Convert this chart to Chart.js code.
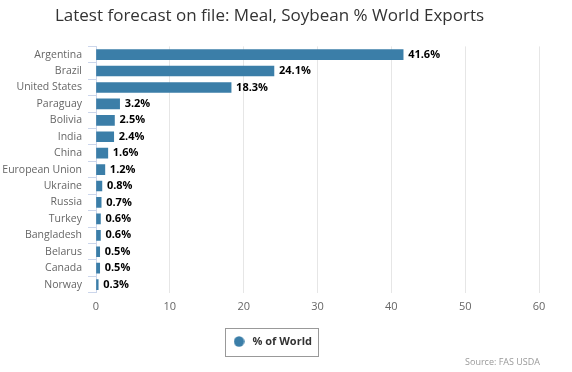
<!DOCTYPE html>
<html>
<head>
<meta charset="utf-8">
<script src="https://cdn.jsdelivr.net/npm/chart.js@4"></script>
<style>
  html, body { margin:0; padding:0; background:#fff; }
  #wrap { width:572px; height:372px; position:relative; }
</style>
</head>
<body>
<div id="wrap"><canvas id="c" width="572" height="372"></canvas></div>
<script>
// Meal, Soybean - % das exportações mundiais por país
const countries = ['Argentina','Brazil','United States','Paraguay','Bolivia','India','China','European Union','Ukraine','Russia','Turkey','Bangladesh','Belarus','Canada','Norway'];
const shareOfWorld = [41.6, 24.1, 18.3, 3.2, 2.5, 2.4, 1.6, 1.2, 0.8, 0.7, 0.6, 0.6, 0.5, 0.5, 0.3];
const xTicks = [0, 10, 20, 30, 40, 50, 60];

const FONT = '"Open Sans", "DejaVu Sans", sans-serif';
const BAR = '#3b7ea8';

// marcador redondo da legenda
const dot = document.createElement('canvas');
dot.width = 11; dot.height = 11;
(function(){
  const g = dot.getContext('2d');
  g.fillStyle = BAR;
  g.beginPath(); g.arc(5.5, 5.5, 5.2, 0, Math.PI * 2); g.fill();
})();

// rótulos de valor no fim de cada barra
const valueLabels = {
  id: 'valueLabels',
  afterDatasetsDraw(chart){
    const ctx = chart.ctx;
    const meta = chart.getDatasetMeta(0);
    ctx.save();
    ctx.font = 'bold 11px ' + FONT;
    ctx.fillStyle = '#000';
    ctx.textBaseline = 'middle';
    ctx.textAlign = 'left';
    meta.data.forEach((bar, i) => {
      ctx.fillText(shareOfWorld[i].toFixed(1) + '%', bar.x + 5, bar.y);
    });
    ctx.restore();
  }
};

// legenda um pouco à direita, com borda, e a fonte no rodapé
const legendBox = {
  id: 'legendBox',
  afterUpdate(chart){
    const l = chart.legend;
    l.left += 2; l.right += 2;
    l.legendHitBoxes.forEach(h => { h.left += 2; });
  },
  afterDraw(chart){
    const ctx = chart.ctx;
    const hb = chart.legend.legendHitBoxes[0];
    if (hb) {
      const cy = hb.top + hb.height / 2;
      ctx.save();
      ctx.strokeStyle = '#999';
      ctx.lineWidth = 1;
      ctx.strokeRect(Math.round(hb.left - 6.5) + 0.5, Math.round(cy - 14) + 0.5, Math.round(hb.width + 12.5), 28);
      ctx.restore();
    }
    ctx.save();
    ctx.font = '9px ' + FONT;
    ctx.fillStyle = '#999';
    ctx.textAlign = 'right';
    ctx.textBaseline = 'middle';
    ctx.fillText('Source: FAS USDA', 540, 362);
    ctx.restore();
  }
};

new Chart(document.getElementById('c').getContext('2d'), {
  type: 'bar',
  data: {
    labels: countries,
    datasets: [{
      label: '% of World',
      data: shareOfWorld,
      backgroundColor: BAR,
      borderWidth: 0,
      barThickness: 10,
      pointStyle: dot
    }]
  },
  options: {
    indexAxis: 'y',
    responsive: false,
    animation: false,
    layout: { padding: { left: 0, right: 33, top: 0, bottom: 15 } },
    plugins: {
      title: {
        display: true,
        text: 'Latest forecast on file: Meal, Soybean % World Exports',
        color: '#333',
        font: { family: FONT, size: 17, weight: 'normal' },
        padding: { top: 6, bottom: 20 }
      },
      legend: {
        position: 'bottom',
        labels: {
          usePointStyle: true,
          pointStyleWidth: 16,
          boxHeight: 11,
          color: '#333',
          font: { family: FONT, size: 11, weight: 'bold' },
          padding: 16
        }
      },
      tooltip: { enabled: false }
    },
    scales: {
      x: {
        min: 0, max: 60,
        afterBuildTicks(scale){ scale.ticks = xTicks.map(v => ({ value: v })); },
        grid: { color: '#e6e6e6', drawTicks: false },
        border: { display: false },
        ticks: { color: '#666', font: { family: FONT, size: 11 }, padding: 7 }
      },
      y: {
        grid: { offset: true, drawOnChartArea: false, color: '#ccd6eb', tickLength: 8 },
        border: { display: true, color: '#ccd6eb' },
        ticks: { color: '#666', font: { family: FONT, size: 10.5 }, padding: 6, autoSkip: false },
        afterFit(scale){ scale.width = 96; }
      }
    }
  },
  plugins: [valueLabels, legendBox]
});
</script>
</body>
</html>
